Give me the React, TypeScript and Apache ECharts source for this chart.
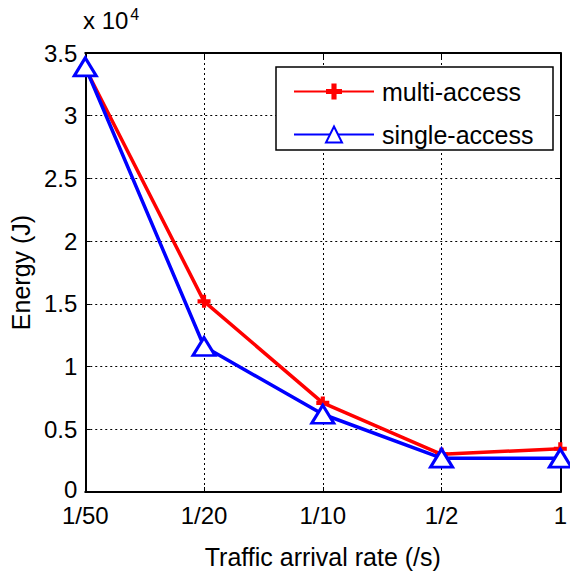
import React, { useEffect, useRef } from "react";
import * as echarts from "echarts";

const categories = ["1/50", "1/20", "1/10", "1/2", "1"];
const multiAccess = [33800, 15200, 7100, 3000, 3450];
const singleAccess = [33900, 11600, 6200, 2700, 2700];
const yTicks = [0, 5000, 10000, 15000, 20000, 25000, 30000, 35000];
const seriesNames = ["multi-access", "single-access"];

const FONT = "'Liberation Sans', Arial, sans-serif";
const plusPath =
  "path://M3.4,0L6.6,0L6.6,3.4L10,3.4L10,6.6L6.6,6.6L6.6,10L3.4,10L3.4,6.6L0,6.6L0,3.4L3.4,3.4Z";

export default function App() {
  const ref = useRef<HTMLDivElement>(null);
  useEffect(() => {
    if (!ref.current) return;
    const chart = echarts.init(ref.current, undefined, { renderer: "svg" });
    const axisCommon = {
      axisLine: { show: true, onZero: false, lineStyle: { color: "#000", width: 2 } },
      axisTick: { show: true, inside: true, length: 5, lineStyle: { color: "#000", width: 1 } },
    };
    chart.setOption({
      animation: false,
      backgroundColor: "#fff",
      textStyle: { fontFamily: FONT },
      grid: { left: 83, right: 8, top: 53, bottom: 79, containLabel: false },
      xAxis: [
        {
          type: "category",
          data: categories,
          boundaryGap: false,
          position: "bottom",
          ...axisCommon,
          axisLabel: { color: "#000", fontSize: 24, fontFamily: FONT, margin: 11 },
          splitLine: { show: true, lineStyle: { color: "#000", type: [2, 3], width: 1 } },
          name: "Traffic arrival rate (/s)",
          nameLocation: "middle",
          nameGap: 52,
          nameTextStyle: { color: "#000", fontSize: 25, fontFamily: FONT },
        },
        {
          type: "category",
          data: categories,
          boundaryGap: false,
          position: "top",
          ...axisCommon,
          axisLabel: { show: false },
          splitLine: { show: false },
        },
      ],
      yAxis: [
        {
          type: "value",
          min: 0,
          max: 35000,
          interval: 5000,
          position: "left",
          ...axisCommon,
          axisLabel: {
            color: "#000",
            fontSize: 24,
            fontFamily: FONT,
            margin: 8,
            formatter: (v: number) =>
              yTicks.includes(v) ? (v === 0 ? "{z|0}" : String(v / 10000)) : "",
            rich: {
              z: { fontSize: 24, fontFamily: FONT, color: "#000", padding: [0, 0, 6, 0] },
            },
          },
          splitLine: { show: true, lineStyle: { color: "#000", type: [2, 3], width: 1 } },
          name: "Energy (J)",
          nameLocation: "middle",
          nameGap: 47,
          nameRotate: 90,
          nameTextStyle: { color: "#000", fontSize: 25, fontFamily: FONT },
        },
        {
          type: "value",
          min: 0,
          max: 35000,
          interval: 5000,
          position: "right",
          ...axisCommon,
          axisLabel: { show: false },
          splitLine: { show: false },
        },
      ],
      legend: {
        orient: "vertical",
        left: 293,
        top: 79,
        padding: 0,
        itemWidth: 80,
        itemHeight: 20,
        itemGap: 18,
        z: 10,
        data: seriesNames,
        textStyle: { color: "#000", fontSize: 25, fontFamily: FONT, padding: [0, 0, 0, 3] },
      },
      graphic: [
        {
          type: "rect",
          z: 5,
          shape: { x: 276, y: 67, width: 277, height: 83 },
          style: { fill: "#fff", stroke: "#000", lineWidth: 1.5 },
        },
        {
          type: "text",
          left: 83,
          top: 6,
          z: 5,
          style: {
            text: "{a|x 10}{b|4}",
            rich: {
              a: { fontSize: 24, fontFamily: FONT, fill: "#000", padding: [12, 0, 0, 0] },
              b: { fontSize: 16, fontFamily: FONT, fill: "#000", padding: [0, 0, 0, 2] },
            },
          },
        },
      ],
      series: [
        {
          name: seriesNames[0],
          type: "line",
          data: multiAccess,
          symbol: plusPath,
          symbolSize: 13,
          lineStyle: { color: "#ff0000", width: 3.5 },
          itemStyle: { color: "#ff0000" },
          z: 2,
        },
        {
          name: seriesNames[1],
          type: "line",
          data: singleAccess,
          symbol: "triangle",
          symbolSize: [22, 18],
          lineStyle: { color: "#0000ff", width: 3.5 },
          itemStyle: { color: "#fff", borderColor: "#0000ff", borderWidth: 3 },
          z: 3,
        },
      ],
    });
    return () => chart.dispose();
  }, []);
  return (
    <div
      ref={ref}
      style={{ position: "fixed", left: 0, top: 0, width: 570, height: 574 }}
    />
  );
}
